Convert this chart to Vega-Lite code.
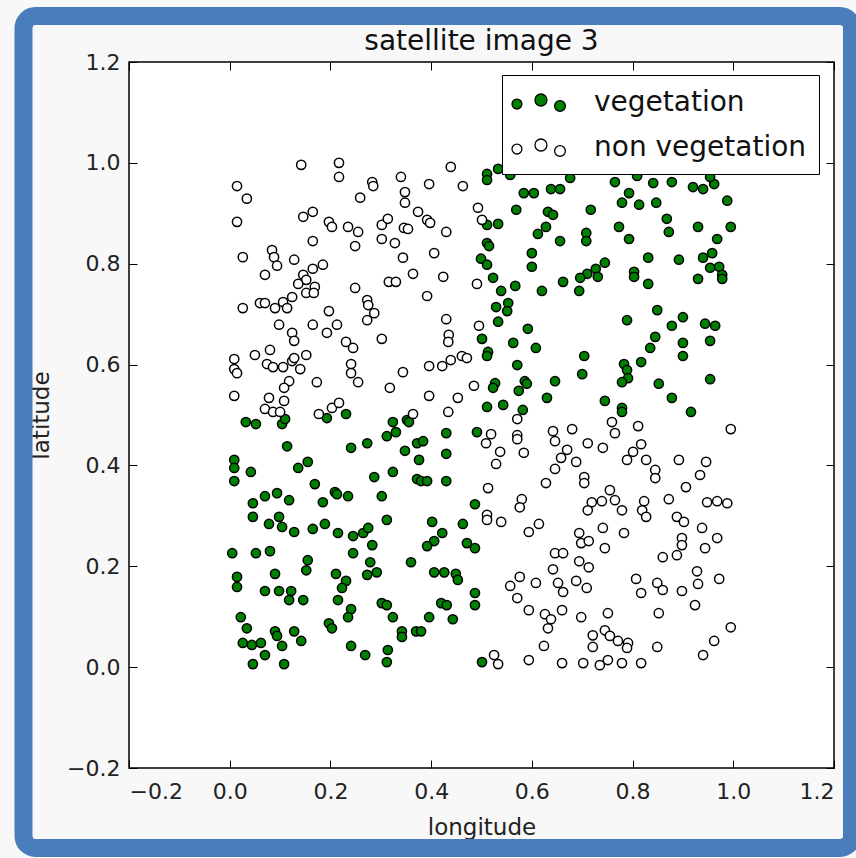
{
"$schema": "https://vega.github.io/schema/vega-lite/v6.json",
"width": 705, "height": 706,
"autosize": {"type": "none"},
"padding": {"left": 129, "top": 62, "right": 22, "bottom": 90},
"background": "#f8f8f8",
"title": {"text": "satellite image 3", "frame": "group", "anchor": "middle", "fontSize": 28, "font": "DejaVu Sans", "fontWeight": "normal", "color": "#111", "offset": 6, "dy": 55},
"config": {
  "view": {"stroke": "#000", "strokeWidth": 1.5, "fill": "#ffffff"},
  "font": "DejaVu Sans",
  "axis": {"grid": false, "domain": false, "tickColor": "#000", "tickSize": -8, "tickWidth": 1, "labelFont": "DejaVu Sans", "labelFontSize": 22, "labelColor": "#222", "titleFont": "DejaVu Sans", "titleFontSize": 23, "titleFontWeight": "normal", "titleColor": "#222"}
},
"resolve": {"axis": {"x": "independent", "y": "independent"}},
"layer": [
  {
    "data": {"values": [{}]},
    "mark": {"type": "rect", "fillOpacity": 0, "stroke": "#4a7dbb", "strokeWidth": 18, "cornerRadius": 12, "clip": false},
    "encoding": {
      "x": {"datum": -0.4095, "type": "quantitative", "scale": {"domain": [-0.2, 1.2], "nice": false}, "axis": {"orient": "top", "labels": false, "title": null, "values": [-0.2, 0, 0.2, 0.4, 0.6, 0.8, 1.0, 1.2]}},
      "x2": {"datum": 1.2357},
      "y": {"datum": 1.2912, "type": "quantitative", "scale": {"domain": [-0.2, 1.2], "nice": false}, "axis": {"orient": "right", "labels": false, "title": null, "values": [-0.2, 0, 0.2, 0.4, 0.6, 0.8, 1.0, 1.2]}},
      "y2": {"datum": -0.3586}
    }
  },
  {
    "data": {"values": [
{"lon":0.511,"lat":0.978},{"lon":0.511,"lat":0.966},{"lon":0.533,"lat":0.988},{"lon":0.557,"lat":0.976},{"lon":0.584,"lat":0.940},{"lon":0.604,"lat":0.940},{"lon":0.638,"lat":0.948},{"lon":0.656,"lat":0.948},{"lon":0.569,"lat":0.907},{"lon":0.632,"lat":0.903},{"lon":0.642,"lat":0.897},{"lon":0.511,"lat":0.877},{"lon":0.533,"lat":0.879},{"lon":0.628,"lat":0.873},{"lon":0.612,"lat":0.859},{"lon":0.656,"lat":0.845},{"lon":0.511,"lat":0.841},{"lon":0.515,"lat":0.835},{"lon":0.600,"lat":0.821},{"lon":0.499,"lat":0.810},{"lon":0.511,"lat":0.798},{"lon":0.600,"lat":0.794},{"lon":0.523,"lat":0.772},{"lon":0.539,"lat":0.746},{"lon":0.567,"lat":0.756},{"lon":0.620,"lat":0.746},{"lon":0.662,"lat":0.764},{"lon":0.553,"lat":0.722},{"lon":0.529,"lat":0.714},{"lon":0.551,"lat":0.706},{"lon":0.533,"lat":0.685},{"lon":0.592,"lat":0.671},
{"lon":0.676,"lat":0.970},{"lon":0.765,"lat":0.962},{"lon":0.809,"lat":0.974},{"lon":0.841,"lat":0.960},{"lon":0.878,"lat":0.962},{"lon":0.920,"lat":0.952},{"lon":0.940,"lat":0.948},{"lon":0.962,"lat":0.958},{"lon":0.954,"lat":0.972},{"lon":0.793,"lat":0.940},{"lon":0.779,"lat":0.921},{"lon":0.813,"lat":0.917},{"lon":0.847,"lat":0.921},{"lon":0.717,"lat":0.907},{"lon":0.988,"lat":0.925},{"lon":0.868,"lat":0.889},{"lon":0.872,"lat":0.863},{"lon":0.773,"lat":0.873},{"lon":0.793,"lat":0.849},{"lon":0.930,"lat":0.873},{"lon":0.995,"lat":0.873},{"lon":0.968,"lat":0.849},{"lon":0.708,"lat":0.861},{"lon":0.708,"lat":0.845},{"lon":0.745,"lat":0.802},{"lon":0.727,"lat":0.790},{"lon":0.710,"lat":0.780},{"lon":0.731,"lat":0.774},{"lon":0.696,"lat":0.772},{"lon":0.694,"lat":0.746},{"lon":0.831,"lat":0.812},{"lon":0.892,"lat":0.808},{"lon":0.940,"lat":0.812},{"lon":0.958,"lat":0.821},{"lon":0.954,"lat":0.792},{"lon":0.972,"lat":0.794},{"lon":0.978,"lat":0.778},{"lon":0.978,"lat":0.770},{"lon":0.803,"lat":0.784},{"lon":0.803,"lat":0.774},{"lon":0.831,"lat":0.760},{"lon":0.930,"lat":0.770},{"lon":0.849,"lat":0.708},{"lon":0.789,"lat":0.688},{"lon":0.900,"lat":0.694},{"lon":0.878,"lat":0.677},{"lon":0.944,"lat":0.681},{"lon":0.964,"lat":0.677},
{"lon":0.032,"lat":0.486},{"lon":0.052,"lat":0.482},{"lon":0.104,"lat":0.482},{"lon":0.110,"lat":0.492},{"lon":0.193,"lat":0.494},{"lon":0.231,"lat":0.502},{"lon":0.324,"lat":0.486},{"lon":0.312,"lat":0.458},{"lon":0.114,"lat":0.438},{"lon":0.241,"lat":0.435},{"lon":0.273,"lat":0.444},{"lon":0.009,"lat":0.411},{"lon":0.009,"lat":0.395},{"lon":0.042,"lat":0.387},{"lon":0.009,"lat":0.369},{"lon":0.136,"lat":0.395},{"lon":0.155,"lat":0.407},{"lon":0.169,"lat":0.363},{"lon":0.287,"lat":0.377},{"lon":0.324,"lat":0.387},{"lon":0.070,"lat":0.339},{"lon":0.094,"lat":0.345},{"lon":0.118,"lat":0.331},{"lon":0.046,"lat":0.325},{"lon":0.185,"lat":0.327},{"lon":0.209,"lat":0.347},{"lon":0.213,"lat":0.343},{"lon":0.235,"lat":0.339},{"lon":0.302,"lat":0.339},
{"lon":0.501,"lat":0.651},{"lon":0.563,"lat":0.643},{"lon":0.608,"lat":0.633},{"lon":0.513,"lat":0.625},{"lon":0.511,"lat":0.617},{"lon":0.571,"lat":0.599},{"lon":0.527,"lat":0.563},{"lon":0.523,"lat":0.554},{"lon":0.586,"lat":0.567},{"lon":0.590,"lat":0.562},{"lon":0.574,"lat":0.548},{"lon":0.646,"lat":0.567},{"lon":0.630,"lat":0.534},{"lon":0.511,"lat":0.516},{"lon":0.543,"lat":0.520},{"lon":0.582,"lat":0.510},{"lon":0.352,"lat":0.490},{"lon":0.356,"lat":0.486},{"lon":0.330,"lat":0.466},{"lon":0.430,"lat":0.464},{"lon":0.491,"lat":0.466},{"lon":0.372,"lat":0.444},{"lon":0.384,"lat":0.448},{"lon":0.348,"lat":0.429},{"lon":0.376,"lat":0.411},{"lon":0.430,"lat":0.423},{"lon":0.372,"lat":0.373},{"lon":0.380,"lat":0.369},{"lon":0.392,"lat":0.369},{"lon":0.430,"lat":0.369},{"lon":0.487,"lat":0.323},
{"lon":0.845,"lat":0.655},{"lon":0.900,"lat":0.643},{"lon":0.900,"lat":0.617},{"lon":0.954,"lat":0.647},{"lon":0.835,"lat":0.633},{"lon":0.704,"lat":0.617},{"lon":0.817,"lat":0.605},{"lon":0.783,"lat":0.601},{"lon":0.789,"lat":0.589},{"lon":0.791,"lat":0.573},{"lon":0.779,"lat":0.565},{"lon":0.700,"lat":0.581},{"lon":0.954,"lat":0.571},{"lon":0.852,"lat":0.562},{"lon":0.878,"lat":0.534},{"lon":0.745,"lat":0.528},{"lon":0.779,"lat":0.514},{"lon":0.779,"lat":0.506},{"lon":0.916,"lat":0.506},
{"lon":0.046,"lat":0.298},{"lon":0.098,"lat":0.298},{"lon":0.078,"lat":0.284},{"lon":0.104,"lat":0.278},{"lon":0.128,"lat":0.268},{"lon":0.165,"lat":0.274},{"lon":0.189,"lat":0.284},{"lon":0.215,"lat":0.266},{"lon":0.245,"lat":0.260},{"lon":0.265,"lat":0.266},{"lon":0.275,"lat":0.276},{"lon":0.312,"lat":0.292},{"lon":0.005,"lat":0.226},{"lon":0.052,"lat":0.226},{"lon":0.080,"lat":0.230},{"lon":0.245,"lat":0.226},{"lon":0.283,"lat":0.242},{"lon":0.155,"lat":0.212},{"lon":0.152,"lat":0.192},{"lon":0.279,"lat":0.208},{"lon":0.292,"lat":0.188},{"lon":0.273,"lat":0.183},{"lon":0.211,"lat":0.185},{"lon":0.231,"lat":0.171},{"lon":0.223,"lat":0.157},{"lon":0.215,"lat":0.133},{"lon":0.0145,"lat":0.179},{"lon":0.0145,"lat":0.159},{"lon":0.090,"lat":0.185},{"lon":0.070,"lat":0.151},{"lon":0.098,"lat":0.151},{"lon":0.122,"lat":0.151},{"lon":0.118,"lat":0.133},{"lon":0.146,"lat":0.133},{"lon":0.241,"lat":0.115},{"lon":0.235,"lat":0.099},{"lon":0.302,"lat":0.127},{"lon":0.312,"lat":0.123},{"lon":0.324,"lat":0.099},{"lon":0.022,"lat":0.099},{"lon":0.034,"lat":0.077},{"lon":0.090,"lat":0.071},{"lon":0.094,"lat":0.062},{"lon":0.128,"lat":0.071},{"lon":0.142,"lat":0.052},{"lon":0.197,"lat":0.087},{"lon":0.203,"lat":0.077},{"lon":0.026,"lat":0.048},{"lon":0.044,"lat":0.044},{"lon":0.062,"lat":0.048},{"lon":0.104,"lat":0.042},{"lon":0.070,"lat":0.024},{"lon":0.046,"lat":0.006},{"lon":0.108,"lat":0.006},{"lon":0.241,"lat":0.042},{"lon":0.269,"lat":0.024},{"lon":0.314,"lat":0.034},{"lon":0.312,"lat":0.010},
{"lon":0.402,"lat":0.288},{"lon":0.463,"lat":0.284},{"lon":0.422,"lat":0.266},{"lon":0.406,"lat":0.250},{"lon":0.392,"lat":0.240},{"lon":0.471,"lat":0.246},{"lon":0.487,"lat":0.236},{"lon":0.360,"lat":0.208},{"lon":0.406,"lat":0.188},{"lon":0.426,"lat":0.188},{"lon":0.449,"lat":0.185},{"lon":0.453,"lat":0.173},{"lon":0.487,"lat":0.147},{"lon":0.487,"lat":0.123},{"lon":0.420,"lat":0.127},{"lon":0.431,"lat":0.123},{"lon":0.443,"lat":0.095},{"lon":0.396,"lat":0.099},{"lon":0.342,"lat":0.071},{"lon":0.342,"lat":0.060},{"lon":0.370,"lat":0.071},{"lon":0.380,"lat":0.071},{"lon":0.501,"lat":0.010}
    ]},
    "mark": {"type": "circle", "size": 85, "stroke": "#000", "strokeWidth": 1.5, "opacity": 1},
    "encoding": {
      "x": {"field": "lon", "type": "quantitative", "scale": {"domain": [-0.2, 1.2], "nice": false}, "axis": {"orient": "bottom", "title": "longitude", "values": [-0.2, 0, 0.2, 0.4, 0.6, 0.8, 1.0, 1.2], "format": ".1f", "labelPadding": 21, "titlePadding": 14}},
      "y": {"field": "lat", "type": "quantitative", "scale": {"domain": [-0.2, 1.2], "nice": false}, "axis": {"orient": "left", "title": "latitude", "values": [-0.2, 0, 0.2, 0.4, 0.6, 0.8, 1.0, 1.2], "format": ".1f", "labelPadding": 17, "titlePadding": 13}},
      "fill": {"datum": "vegetation", "type": "nominal", "scale": {"domain": ["vegetation", "non vegetation"], "range": ["#008000", "#ffffff"]},
        "legend": {"title": null, "orient": "none", "legendX": 373, "legendY": 13, "direction": "vertical", "padding": 12, "symbolOffset": 9, "labelOffset": 39, "rowPadding": 15, "labelFont": "DejaVu Sans", "labelFontSize": 28, "labelColor": "#111", "labelLimit": 400, "symbolSize": 900, "symbolStrokeColor": "#000", "symbolStrokeWidth": 1.3, "strokeColor": "#000", "fillColor": "#ffffff",
          "symbolType": "M-1.8,0.07a0.33,0.33 0 1,0 0.66,0a0.33,0.33 0 1,0 -0.66,0ZM-0.27,-0.2a0.4,0.4 0 1,0 0.8,0a0.4,0.4 0 1,0 -0.8,0ZM1.04,0.2a0.36,0.36 0 1,0 0.72,0a0.36,0.36 0 1,0 -0.72,0Z",
          "encode": {
            "legend": {"stroke": {"value": "#000"}, "strokeWidth": {"value": 1.5}, "fill": {"value": "#ffffff"}},
            "symbols": {"shape": {"value": "M-1.8,0.07a0.33,0.33 0 1,0 0.66,0a0.33,0.33 0 1,0 -0.66,0ZM-0.27,-0.2a0.4,0.4 0 1,0 0.8,0a0.4,0.4 0 1,0 -0.8,0ZM1.04,0.2a0.36,0.36 0 1,0 0.72,0a0.36,0.36 0 1,0 -0.72,0Z"}, "size": {"value": 900}, "stroke": {"value": "#000"}, "strokeWidth": {"value": 1.3}, "opacity": {"value": 1}}
          }
        }
      }
    }
  },
  {
    "data": {"values": [
{"lon":0.142,"lat":0.996},{"lon":0.217,"lat":1.000},{"lon":0.217,"lat":0.972},{"lon":0.283,"lat":0.962},{"lon":0.285,"lat":0.954},{"lon":0.0145,"lat":0.954},{"lon":0.034,"lat":0.929},{"lon":0.259,"lat":0.931},{"lon":0.146,"lat":0.893},{"lon":0.165,"lat":0.903},{"lon":0.0145,"lat":0.883},{"lon":0.197,"lat":0.883},{"lon":0.203,"lat":0.873},{"lon":0.235,"lat":0.873},{"lon":0.255,"lat":0.863},{"lon":0.302,"lat":0.877},{"lon":0.314,"lat":0.889},{"lon":0.302,"lat":0.849},{"lon":0.165,"lat":0.845},{"lon":0.249,"lat":0.835},{"lon":0.026,"lat":0.813},{"lon":0.084,"lat":0.827},{"lon":0.088,"lat":0.813},{"lon":0.094,"lat":0.796},{"lon":0.128,"lat":0.808},{"lon":0.070,"lat":0.778},{"lon":0.185,"lat":0.798},{"lon":0.165,"lat":0.790},{"lon":0.146,"lat":0.778},{"lon":0.152,"lat":0.768},{"lon":0.136,"lat":0.760},{"lon":0.169,"lat":0.754},{"lon":0.152,"lat":0.742},{"lon":0.167,"lat":0.742},{"lon":0.316,"lat":0.764},{"lon":0.330,"lat":0.764},{"lon":0.249,"lat":0.752},{"lon":0.124,"lat":0.734},{"lon":0.106,"lat":0.724},{"lon":0.060,"lat":0.722},{"lon":0.070,"lat":0.722},{"lon":0.090,"lat":0.712},{"lon":0.114,"lat":0.712},{"lon":0.026,"lat":0.712},{"lon":0.197,"lat":0.706},{"lon":0.273,"lat":0.728},{"lon":0.275,"lat":0.718},{"lon":0.287,"lat":0.702},{"lon":0.273,"lat":0.688},{"lon":0.098,"lat":0.679},{"lon":0.165,"lat":0.679},{"lon":0.213,"lat":0.679},
{"lon":0.439,"lat":0.992},{"lon":0.340,"lat":0.972},{"lon":0.396,"lat":0.958},{"lon":0.463,"lat":0.954},{"lon":0.348,"lat":0.942},{"lon":0.348,"lat":0.921},{"lon":0.374,"lat":0.903},{"lon":0.392,"lat":0.887},{"lon":0.398,"lat":0.881},{"lon":0.346,"lat":0.871},{"lon":0.354,"lat":0.869},{"lon":0.430,"lat":0.863},{"lon":0.493,"lat":0.911},{"lon":0.501,"lat":0.887},{"lon":0.328,"lat":0.841},{"lon":0.344,"lat":0.812},{"lon":0.406,"lat":0.821},{"lon":0.364,"lat":0.780},{"lon":0.424,"lat":0.774},{"lon":0.491,"lat":0.760},{"lon":0.392,"lat":0.736},{"lon":0.430,"lat":0.690},{"lon":0.495,"lat":0.677},
{"lon":0.124,"lat":0.663},{"lon":0.128,"lat":0.647},{"lon":0.193,"lat":0.663},{"lon":0.231,"lat":0.645},{"lon":0.245,"lat":0.633},{"lon":0.302,"lat":0.651},{"lon":0.080,"lat":0.629},{"lon":0.050,"lat":0.619},{"lon":0.009,"lat":0.611},{"lon":0.009,"lat":0.591},{"lon":0.0145,"lat":0.583},{"lon":0.074,"lat":0.601},{"lon":0.086,"lat":0.595},{"lon":0.106,"lat":0.595},{"lon":0.124,"lat":0.607},{"lon":0.128,"lat":0.613},{"lon":0.152,"lat":0.619},{"lon":0.140,"lat":0.591},{"lon":0.241,"lat":0.601},{"lon":0.241,"lat":0.583},{"lon":0.255,"lat":0.565},{"lon":0.173,"lat":0.565},{"lon":0.118,"lat":0.567},{"lon":0.108,"lat":0.554},{"lon":0.009,"lat":0.538},{"lon":0.078,"lat":0.534},{"lon":0.108,"lat":0.528},{"lon":0.070,"lat":0.512},{"lon":0.086,"lat":0.506},{"lon":0.100,"lat":0.506},{"lon":0.203,"lat":0.514},{"lon":0.217,"lat":0.524},{"lon":0.177,"lat":0.502},{"lon":0.318,"lat":0.554},
{"lon":0.435,"lat":0.659},{"lon":0.434,"lat":0.645},{"lon":0.344,"lat":0.585},{"lon":0.396,"lat":0.597},{"lon":0.422,"lat":0.597},{"lon":0.439,"lat":0.609},{"lon":0.461,"lat":0.617},{"lon":0.471,"lat":0.613},{"lon":0.396,"lat":0.538},{"lon":0.453,"lat":0.534},{"lon":0.485,"lat":0.558},{"lon":0.364,"lat":0.502},{"lon":0.434,"lat":0.506},{"lon":0.571,"lat":0.492},{"lon":0.519,"lat":0.462},{"lon":0.509,"lat":0.444},{"lon":0.571,"lat":0.460},{"lon":0.571,"lat":0.452},{"lon":0.584,"lat":0.425},{"lon":0.537,"lat":0.427},{"lon":0.529,"lat":0.403},{"lon":0.642,"lat":0.468},{"lon":0.646,"lat":0.448},{"lon":0.658,"lat":0.415},{"lon":0.646,"lat":0.393},{"lon":0.628,"lat":0.365},{"lon":0.513,"lat":0.355},{"lon":0.580,"lat":0.333},
{"lon":0.759,"lat":0.486},{"lon":0.765,"lat":0.464},{"lon":0.811,"lat":0.478},{"lon":0.680,"lat":0.472},{"lon":0.711,"lat":0.444},{"lon":0.741,"lat":0.435},{"lon":0.670,"lat":0.431},{"lon":0.688,"lat":0.407},{"lon":0.817,"lat":0.442},{"lon":0.801,"lat":0.427},{"lon":0.789,"lat":0.411},{"lon":0.827,"lat":0.411},{"lon":0.845,"lat":0.391},{"lon":0.845,"lat":0.375},{"lon":0.892,"lat":0.411},{"lon":0.946,"lat":0.407},{"lon":0.934,"lat":0.381},{"lon":0.906,"lat":0.357},{"lon":0.995,"lat":0.472},{"lon":0.704,"lat":0.377},{"lon":0.704,"lat":0.365},{"lon":0.755,"lat":0.351},{"lon":0.765,"lat":0.331},{"lon":0.719,"lat":0.327},{"lon":0.739,"lat":0.329},{"lon":0.823,"lat":0.329},{"lon":0.872,"lat":0.333},{"lon":0.948,"lat":0.327},{"lon":0.968,"lat":0.329},{"lon":0.988,"lat":0.325},
{"lon":0.511,"lat":0.302},{"lon":0.511,"lat":0.292},{"lon":0.539,"lat":0.288},{"lon":0.576,"lat":0.317},{"lon":0.614,"lat":0.284},{"lon":0.594,"lat":0.268},{"lon":0.646,"lat":0.226},{"lon":0.662,"lat":0.226},{"lon":0.642,"lat":0.194},{"lon":0.652,"lat":0.167},{"lon":0.662,"lat":0.149},{"lon":0.576,"lat":0.179},{"lon":0.557,"lat":0.161},{"lon":0.571,"lat":0.137},{"lon":0.608,"lat":0.167},{"lon":0.594,"lat":0.113},{"lon":0.626,"lat":0.105},{"lon":0.638,"lat":0.095},{"lon":0.632,"lat":0.077},{"lon":0.624,"lat":0.042},{"lon":0.660,"lat":0.113},{"lon":0.525,"lat":0.024},{"lon":0.533,"lat":0.006},{"lon":0.594,"lat":0.014},{"lon":0.660,"lat":0.008},
{"lon":0.711,"lat":0.311},{"lon":0.779,"lat":0.311},{"lon":0.819,"lat":0.311},{"lon":0.827,"lat":0.298},{"lon":0.888,"lat":0.298},{"lon":0.902,"lat":0.288},{"lon":0.938,"lat":0.276},{"lon":0.968,"lat":0.256},{"lon":0.944,"lat":0.236},{"lon":0.741,"lat":0.276},{"lon":0.783,"lat":0.266},{"lon":0.694,"lat":0.266},{"lon":0.698,"lat":0.246},{"lon":0.713,"lat":0.250},{"lon":0.745,"lat":0.236},{"lon":0.898,"lat":0.256},{"lon":0.898,"lat":0.242},{"lon":0.888,"lat":0.222},{"lon":0.860,"lat":0.218},{"lon":0.694,"lat":0.210},{"lon":0.713,"lat":0.198},{"lon":0.928,"lat":0.190},{"lon":0.930,"lat":0.165},{"lon":0.972,"lat":0.175},{"lon":0.807,"lat":0.175},{"lon":0.849,"lat":0.167},{"lon":0.860,"lat":0.153},{"lon":0.898,"lat":0.151},{"lon":0.817,"lat":0.147},{"lon":0.688,"lat":0.171},{"lon":0.709,"lat":0.157},{"lon":0.698,"lat":0.099},{"lon":0.751,"lat":0.107},{"lon":0.852,"lat":0.107},{"lon":0.924,"lat":0.123},{"lon":0.995,"lat":0.079},{"lon":0.721,"lat":0.063},{"lon":0.745,"lat":0.073},{"lon":0.755,"lat":0.062},{"lon":0.771,"lat":0.052},{"lon":0.791,"lat":0.048},{"lon":0.721,"lat":0.040},{"lon":0.789,"lat":0.038},{"lon":0.849,"lat":0.040},{"lon":0.962,"lat":0.052},{"lon":0.940,"lat":0.024},{"lon":0.702,"lat":0.008},{"lon":0.735,"lat":0.004},{"lon":0.751,"lat":0.014},{"lon":0.779,"lat":0.008},{"lon":0.817,"lat":0.008}
    ]},
    "mark": {"type": "circle", "size": 85, "stroke": "#000", "strokeWidth": 1.5, "opacity": 1},
    "encoding": {
      "x": {"field": "lon", "type": "quantitative", "scale": {"domain": [-0.2, 1.2], "nice": false}, "axis": null},
      "y": {"field": "lat", "type": "quantitative", "scale": {"domain": [-0.2, 1.2], "nice": false}, "axis": null},
      "fill": {"datum": "non vegetation", "type": "nominal", "scale": {"domain": ["vegetation", "non vegetation"], "range": ["#008000", "#ffffff"]}}
    }
  }
]
}
